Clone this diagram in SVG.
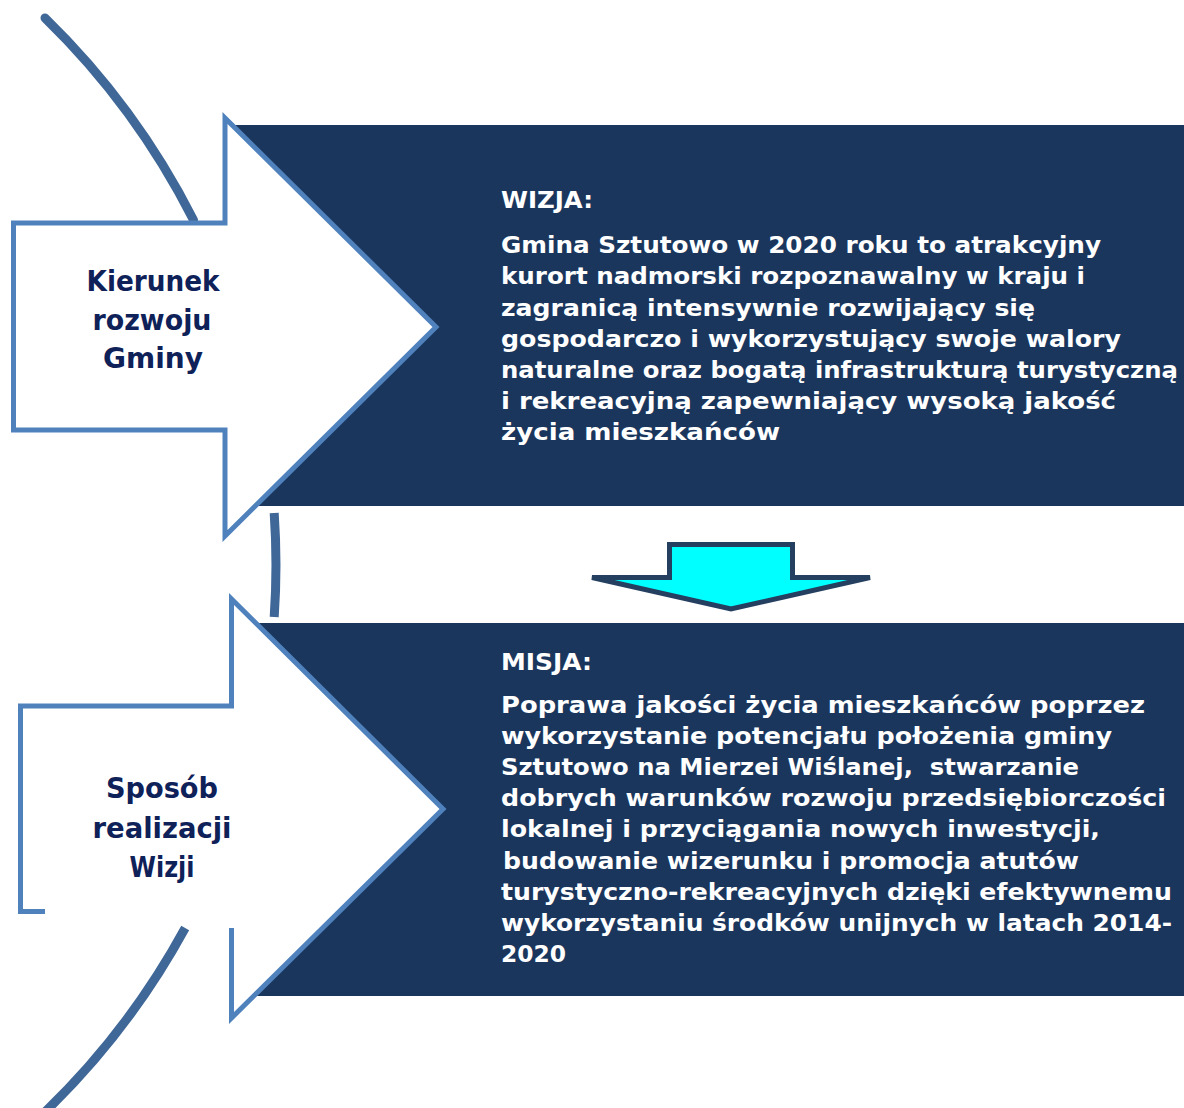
<svg xmlns="http://www.w3.org/2000/svg" width="1184" height="1108" viewBox="0 0 1184 1108">
<style>
.arc{fill:none;stroke:#3f6797;stroke-width:9}
.box{fill:#1a365d}
.arrow{fill:#ffffff}
.outline{fill:none;stroke:#4f81bd;stroke-width:5;stroke-linejoin:miter;stroke-miterlimit:10}
.lbl{font-family:"DejaVu Sans","Liberation Sans",sans-serif;font-weight:bold;font-size:29px;fill:#0e2158;text-anchor:middle}
.txt{font-family:"DejaVu Sans","Liberation Sans",sans-serif;font-weight:bold;font-size:23px;fill:#ffffff}
</style>
<g id="connectors">
<path class="arc" d="M45,18 A763,763 0 0 1 193.5,220" stroke-linecap="round"/>
<path class="arc" d="M274.2,513 A763,763 0 0 1 274.2,617"/>
<path class="arc" d="M185.2,928 A763,763 0 0 1 41.8,1115"/>
</g>
<g id="wizja-box">
<rect class="box" x="230" y="125" width="954" height="381"/>
<text class="txt" x="501" y="208" textLength="92" lengthAdjust="spacingAndGlyphs">WIZJA:</text>
<text class="txt" x="501" y="253" textLength="600" lengthAdjust="spacingAndGlyphs">Gmina Sztutowo w 2020 roku to atrakcyjny</text>
<text class="txt" x="501" y="284" textLength="584" lengthAdjust="spacingAndGlyphs">kurort nadmorski rozpoznawalny w kraju i</text>
<text class="txt" x="501" y="315.5" textLength="534" lengthAdjust="spacingAndGlyphs">zagranicą intensywnie rozwijający się</text>
<text class="txt" x="501" y="347" textLength="620" lengthAdjust="spacingAndGlyphs">gospodarczo i wykorzystujący swoje walory</text>
<text class="txt" x="501" y="378" textLength="677" lengthAdjust="spacingAndGlyphs">naturalne oraz bogatą infrastrukturą turystyczną</text>
<text class="txt" x="501" y="409" textLength="615" lengthAdjust="spacingAndGlyphs">i rekreacyjną zapewniający wysoką jakość</text>
<text class="txt" x="501" y="440" textLength="279" lengthAdjust="spacingAndGlyphs">życia mieszkańców</text>
</g>
<g id="misja-box">
<rect class="box" x="240" y="623" width="944" height="373"/>
<text class="txt" x="501" y="670" textLength="91" lengthAdjust="spacingAndGlyphs">MISJA:</text>
<text class="txt" x="501" y="713" textLength="644" lengthAdjust="spacingAndGlyphs">Poprawa jakości życia mieszkańców poprzez</text>
<text class="txt" x="501" y="744" textLength="611" lengthAdjust="spacingAndGlyphs">wykorzystanie potencjału położenia gminy</text>
<text class="txt" x="501" y="775" textLength="578" lengthAdjust="spacingAndGlyphs" xml:space="preserve">Sztutowo na Mierzei Wiślanej,  stwarzanie</text>
<text class="txt" x="501" y="806" textLength="665" lengthAdjust="spacingAndGlyphs">dobrych warunków rozwoju przedsiębiorczości</text>
<text class="txt" x="501" y="837" textLength="599" lengthAdjust="spacingAndGlyphs">lokalnej i przyciągania nowych inwestycji,</text>
<text class="txt" x="503" y="869" textLength="576" lengthAdjust="spacingAndGlyphs">budowanie wizerunku i promocja atutów</text>
<text class="txt" x="501" y="900" textLength="671" lengthAdjust="spacingAndGlyphs">turystyczno-rekreacyjnych dzięki efektywnemu</text>
<text class="txt" x="501" y="931" textLength="671" lengthAdjust="spacingAndGlyphs">wykorzystaniu środków unijnych w latach 2014-</text>
<text class="txt" x="501" y="962" textLength="65" lengthAdjust="spacingAndGlyphs">2020</text>
</g>
<g id="arrow-kierunek">
<path class="arrow outline" style="fill:#ffffff" d="M13.5,223 H225 V118 L436,327 L225,536 V430 H13.5 Z"/>
<text class="lbl" x="153" y="291" textLength="133" lengthAdjust="spacingAndGlyphs">Kierunek</text>
<text class="lbl" x="152" y="330" textLength="119" lengthAdjust="spacingAndGlyphs">rozwoju</text>
<text class="lbl" x="153" y="368" textLength="100" lengthAdjust="spacingAndGlyphs">Gminy</text>
</g>
<g id="arrow-sposob">
<path class="arrow" d="M20.5,706 H231.5 V599 L443,809 L231.5,1018 V911.5 H20.5 Z"/>
<path class="outline" d="M45,911.5 H20.5 V706 H231.5 V599 L443,809 L231.5,1018 V928"/>
<text class="lbl" x="162" y="798" textLength="112" lengthAdjust="spacingAndGlyphs">Sposób</text>
<text class="lbl" x="162" y="838" textLength="139" lengthAdjust="spacingAndGlyphs">realizacji</text>
<text class="lbl" x="162" y="877" textLength="65" lengthAdjust="spacingAndGlyphs">Wizji</text>
</g>
<g id="down-arrow">
<path d="M669.5,544.5 H792.5 V577.5 H870 L731,609 L592,577.5 H669.5 Z" fill="#00ffff" stroke="#243f60" stroke-width="5"/>
</g>
</svg>
